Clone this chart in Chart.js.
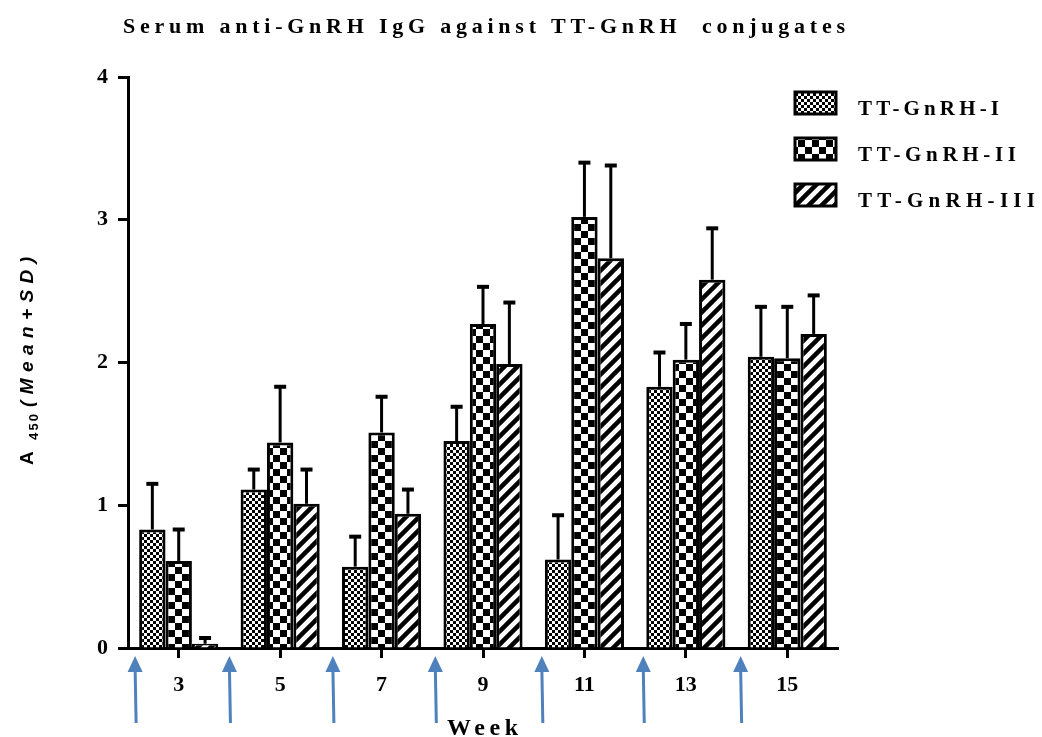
<!DOCTYPE html>
<html>
<head>
<meta charset="utf-8">
<script src="https://cdn.jsdelivr.net/npm/chart.js@4"></script>
<style>
  html, body { margin: 0; padding: 0; background: #fff; }
  canvas { display: block; }
</style>
</head>
<body>
<canvas id="chart" width="1042" height="737"></canvas>
<script>
// data
const weeks = ['3', '5', '7', '9', '11', '13', '15'];
const seriesNames = ['TT-GnRH-I', 'TT-GnRH-II', 'TT-GnRH-III'];
const meanI   = [0.83, 1.11, 0.57, 1.45, 0.62, 1.83, 2.04];
const meanII  = [0.61, 1.44, 1.51, 2.27, 3.02, 2.02, 2.03];
const meanIII = [0.03, 1.01, 0.94, 1.99, 2.73, 2.58, 2.20];
const sdI     = [0.32, 0.14, 0.21, 0.24, 0.31, 0.24, 0.35];
const sdII    = [0.22, 0.39, 0.25, 0.26, 0.38, 0.25, 0.36];
const sdIII   = [0.04, 0.24, 0.17, 0.43, 0.65, 0.36, 0.27];
const yTicks  = [0, 1, 2, 3, 4];
// immunization arrows, in category units along the x axis
const arrowAt = [-0.43, 0.5, 1.52, 2.53, 3.58, 4.58, 5.54];

const titleText = 'Serum anti-GnRH IgG against TT-GnRH  conjugates';
const xTitle = 'Week';

const ctx = document.getElementById('chart').getContext('2d');

// patterns for the three series
function makePattern(kind) {
    const c = document.createElement('canvas');
    const g = c.getContext('2d');
    if (kind === 'fine') {
        c.width = 6; c.height = 6;
        g.fillStyle = '#fff'; g.fillRect(0, 0, 6, 6);
        g.fillStyle = '#000';
        g.fillRect(0, 0, 3, 3); g.fillRect(3, 3, 3, 3);
    } else if (kind === 'coarse') {
        c.width = 14; c.height = 14;
        g.fillStyle = '#fff'; g.fillRect(0, 0, 14, 14);
        g.fillStyle = '#000';
        g.fillRect(0, 0, 7, 7); g.fillRect(7, 7, 7, 7);
    } else {
        c.width = 13; c.height = 13;
        g.fillStyle = '#fff'; g.fillRect(0, 0, 13, 13);
        g.strokeStyle = '#000'; g.lineWidth = 4.5;
        g.beginPath();
        g.moveTo(-2, 15); g.lineTo(15, -2);
        g.moveTo(-8, 8); g.lineTo(8, -8);
        g.moveTo(5, 21); g.lineTo(21, 5);
        g.stroke();
    }
    return ctx.createPattern(c, 'repeat');
}
const fills = [makePattern('fine'), makePattern('coarse'), makePattern('stripe')];
const sds = [sdI, sdII, sdIII];

// draws text with letter spacing fitted to a given width, starting at x
function spacedText(g, text, x, y, width) {
    g.letterSpacing = '0px';
    const w0 = g.measureText(text).width;
    const s = (width - w0) / Math.max(1, text.length - 1);
    g.letterSpacing = s + 'px';
    g.fillText(text, x, y);
    g.letterSpacing = '0px';
}

const extras = {
    id: 'extras',
    afterDatasetsDraw(chart) {
        const g = chart.ctx;
        const y = chart.scales.y;
        g.save();
        g.strokeStyle = '#000';
        chart.data.datasets.forEach((ds, di) => {
            const meta = chart.getDatasetMeta(di);
            meta.data.forEach((bar, i) => {
                const top = y.getPixelForValue(ds.data[i] + sds[di][i]);
                const x = bar.x;
                g.lineWidth = 3;
                g.beginPath();
                g.moveTo(x, bar.y);
                g.lineTo(x, top);
                g.stroke();
                g.lineWidth = 4;
                g.beginPath();
                g.moveTo(x - 6, top);
                g.lineTo(x + 6, top);
                g.stroke();
            });
        });
        g.restore();
    },
    afterDraw(chart) {
        const g = chart.ctx;
        const xs = chart.scales.x;
        g.save();
        g.fillStyle = '#000';
        g.textAlign = 'left';
        g.textBaseline = 'alphabetic';

        // title
        g.font = 'bold 22px "Liberation Serif"';
        spacedText(g, titleText, 123, 33, 722);

        // x title
        g.font = 'bold 24px "Liberation Serif"';
        spacedText(g, xTitle, 447, 735, 71);

        // legend
        const tops = [92, 138, 184];
        const widths = [141, 158, 177];
        chart.data.datasets.forEach((ds, di) => {
            g.fillStyle = ds.backgroundColor;
            g.fillRect(795, tops[di], 41, 22);
            g.strokeStyle = '#000';
            g.lineWidth = 3;
            g.strokeRect(795, tops[di], 41, 22);
            g.fillStyle = '#000';
            g.font = 'bold 21px "Liberation Serif"';
            spacedText(g, ds.label, 858, tops[di] + 23, widths[di]);
        });

        // y title with subscript
        g.translate(26, 465);
        g.rotate(-Math.PI / 2);
        g.font = 'bold 19px "Liberation Sans"';
        g.fillText('A', 0, 7);
        g.font = 'bold 13px "Liberation Sans"';
        spacedText(g, '450', 25, 12, 26);
        g.font = 'bold italic 19px "Liberation Sans"';
        spacedText(g, '(Mean+SD)', 58, 7, 150);
        g.restore();

        // arrows below the axis
        g.save();
        g.strokeStyle = '#4f81bd';
        g.fillStyle = '#4f81bd';
        g.lineWidth = 3;
        arrowAt.forEach(v => {
            const x = xs.getPixelForValue(v);
            g.beginPath();
            g.moveTo(x, 668);
            g.lineTo(x + 1, 723);
            g.stroke();
            g.beginPath();
            g.moveTo(x, 656);
            g.lineTo(x - 7.5, 672);
            g.lineTo(x + 7.5, 672);
            g.closePath();
            g.fill();
        });
        g.restore();
    }
};

new Chart(ctx, {
    type: 'bar',
    data: {
        labels: weeks,
        datasets: [meanI, meanII, meanIII].map((vals, i) => ({
            label: seriesNames[i],
            data: vals,
            backgroundColor: fills[i],
            borderColor: '#000',
            borderWidth: 3,
            borderSkipped: 'bottom',
            categoryPercentage: 0.78,
            barPercentage: 1.0
        }))
    },
    options: {
        responsive: false,
        animation: false,
        devicePixelRatio: 1,
        layout: { padding: { left: 0, right: 204, top: 77, bottom: 0 } },
        plugins: {
            legend: { display: false },
            title: { display: false },
            tooltip: { enabled: false }
        },
        scales: {
            x: {
                afterFit(s) { s.height = 89; },
                grid: {
                    offset: false, drawOnChartArea: false, drawTicks: true,
                    tickLength: 10, tickWidth: 3, tickColor: '#000'
                },
                border: { color: '#000', width: 3 },
                ticks: {
                    color: '#000', padding: 14,
                    font: { family: 'Liberation Serif', weight: 'bold', size: 22 }
                }
            },
            y: {
                min: 0, max: 4,
                afterFit(s) { s.width = 128; },
                afterBuildTicks(s) { s.ticks = yTicks.map(v => ({ value: v })); },
                grid: {
                    drawOnChartArea: false, drawTicks: true,
                    tickLength: 10, tickWidth: 3, tickColor: '#000'
                },
                border: { color: '#000', width: 3 },
                ticks: {
                    color: '#000', padding: 10,
                    font: { family: 'Liberation Serif', weight: 'bold', size: 22 }
                }
            }
        }
    },
    plugins: [extras]
});
</script>
</body>
</html>
